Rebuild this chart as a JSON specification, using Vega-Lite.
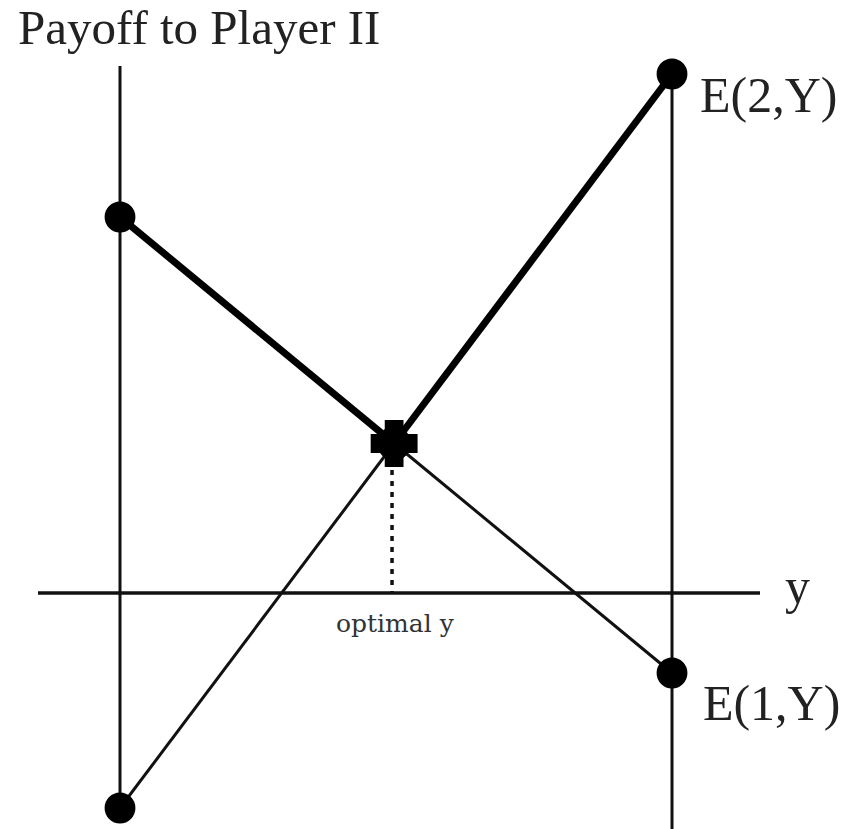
{
  "$schema": "https://vega.github.io/schema/vega-lite/v6.json",
  "width": 846,
  "height": 829,
  "padding": 0,
  "autosize": "none",
  "background": "white",
  "config": {"view": {"stroke": null}},
  "datasets": {
    "segments": [
      {"part": "frame", "x": 0, "y": 5.27, "x2": 0, "y2": -2.15},
      {"part": "frame", "x": 1, "y": 5.19, "x2": 1, "y2": -2.36},
      {"part": "axis", "x": -0.1486, "y": 0, "x2": 1.1594, "y2": 0},
      {"part": "thin", "x": 0, "y": -2.15, "x2": 0.4966, "y2": 1.495},
      {"part": "thin", "x": 0.4966, "y": 1.495, "x2": 1, "y2": -0.8},
      {"part": "thick", "x": 0, "y": 3.76, "x2": 0.4966, "y2": 1.495},
      {"part": "thick", "x": 0.4966, "y": 1.495, "x2": 1, "y2": 5.19},
      {"part": "dashed", "x": 0.4928, "y": 1.45, "x2": 0.4928, "y2": 0}
    ],
    "points": [
      {"kind": "end", "x": 0, "y": 3.76},
      {"kind": "end", "x": 1, "y": 5.19},
      {"kind": "end", "x": 1, "y": -0.8},
      {"kind": "end", "x": 0, "y": -2.15},
      {"kind": "optimum", "x": 0.4966, "y": 1.495}
    ],
    "labels": [
      {"kind": "title", "x": -0.1848, "y": 5.49, "text": "Payoff to Player II"},
      {"kind": "big", "x": 1.0507, "y": 4.81, "text": "E(2,Y)"},
      {"kind": "big", "x": 1.056, "y": -1.27, "text": "E(1,Y)"},
      {"kind": "big", "x": 1.2047, "y": -0.1, "text": "y"},
      {"kind": "small", "x": 0.498, "y": -0.39, "text": "optimal y"}
    ]
  },
  "layer": [
    {
      "data": {"name": "segments"},
      "transform": [{"filter": "datum.part === 'frame'"}],
      "mark": {"type": "rule", "strokeWidth": 3, "color": "#111"},
      "encoding": {
        "x": {"field": "x", "type": "quantitative", "scale": {"domain": [-0.2174, 1.3152], "nice": false, "zero": false}, "axis": null},
        "y": {"field": "y", "type": "quantitative", "scale": {"domain": [-2.36, 5.93], "nice": false, "zero": false}, "axis": null},
        "x2": {"field": "x2"},
        "y2": {"field": "y2"}
      }
    },
    {
      "data": {"name": "segments"},
      "transform": [{"filter": "datum.part === 'axis'"}],
      "mark": {"type": "rule", "strokeWidth": 3.5, "color": "#111"},
      "encoding": {
        "x": {"field": "x", "type": "quantitative"},
        "y": {"field": "y", "type": "quantitative"},
        "x2": {"field": "x2"},
        "y2": {"field": "y2"}
      }
    },
    {
      "data": {"name": "segments"},
      "transform": [{"filter": "datum.part === 'thin'"}],
      "mark": {"type": "rule", "strokeWidth": 3, "color": "#111"},
      "encoding": {
        "x": {"field": "x", "type": "quantitative"},
        "y": {"field": "y", "type": "quantitative"},
        "x2": {"field": "x2"},
        "y2": {"field": "y2"}
      }
    },
    {
      "data": {"name": "segments"},
      "transform": [{"filter": "datum.part === 'thick'"}],
      "mark": {"type": "rule", "strokeWidth": 7, "color": "#000"},
      "encoding": {
        "x": {"field": "x", "type": "quantitative"},
        "y": {"field": "y", "type": "quantitative"},
        "x2": {"field": "x2"},
        "y2": {"field": "y2"}
      }
    },
    {
      "data": {"name": "segments"},
      "transform": [{"filter": "datum.part === 'dashed'"}],
      "mark": {"type": "rule", "strokeWidth": 3.5, "color": "#111", "strokeDash": [5, 6]},
      "encoding": {
        "x": {"field": "x", "type": "quantitative"},
        "y": {"field": "y", "type": "quantitative"},
        "x2": {"field": "x2"},
        "y2": {"field": "y2"}
      }
    },
    {
      "data": {"name": "points"},
      "transform": [{"filter": "datum.kind === 'end'"}],
      "mark": {"type": "circle", "size": 950, "color": "#000", "opacity": 1},
      "encoding": {
        "x": {"field": "x", "type": "quantitative"},
        "y": {"field": "y", "type": "quantitative"}
      }
    },
    {
      "data": {"name": "points"},
      "transform": [{"filter": "datum.kind === 'optimum'"}],
      "mark": {"type": "point", "shape": "cross", "size": 2200, "filled": true, "color": "#000", "opacity": 1},
      "encoding": {
        "x": {"field": "x", "type": "quantitative"},
        "y": {"field": "y", "type": "quantitative"}
      }
    },
    {
      "data": {"name": "points"},
      "transform": [{"filter": "datum.kind === 'optimum'"}],
      "mark": {"type": "circle", "size": 1150, "color": "#000", "opacity": 1},
      "encoding": {
        "x": {"field": "x", "type": "quantitative"},
        "y": {"field": "y", "type": "quantitative"}
      }
    },
    {
      "data": {"name": "labels"},
      "transform": [{"filter": "datum.kind === 'title'"}],
      "mark": {"type": "text", "font": "Liberation Serif", "fontSize": 49, "align": "left", "baseline": "alphabetic", "color": "#222"},
      "encoding": {
        "x": {"field": "x", "type": "quantitative"},
        "y": {"field": "y", "type": "quantitative"},
        "text": {"field": "text"}
      }
    },
    {
      "data": {"name": "labels"},
      "transform": [{"filter": "datum.kind === 'big'"}],
      "mark": {"type": "text", "font": "Liberation Serif", "fontSize": 50, "align": "left", "baseline": "alphabetic", "color": "#222"},
      "encoding": {
        "x": {"field": "x", "type": "quantitative"},
        "y": {"field": "y", "type": "quantitative"},
        "text": {"field": "text"}
      }
    },
    {
      "data": {"name": "labels"},
      "transform": [{"filter": "datum.kind === 'small'"}],
      "mark": {"type": "text", "font": "DejaVu Serif", "fontSize": 25, "align": "center", "baseline": "alphabetic", "color": "#333"},
      "encoding": {
        "x": {"field": "x", "type": "quantitative"},
        "y": {"field": "y", "type": "quantitative"},
        "text": {"field": "text"}
      }
    }
  ]
}
